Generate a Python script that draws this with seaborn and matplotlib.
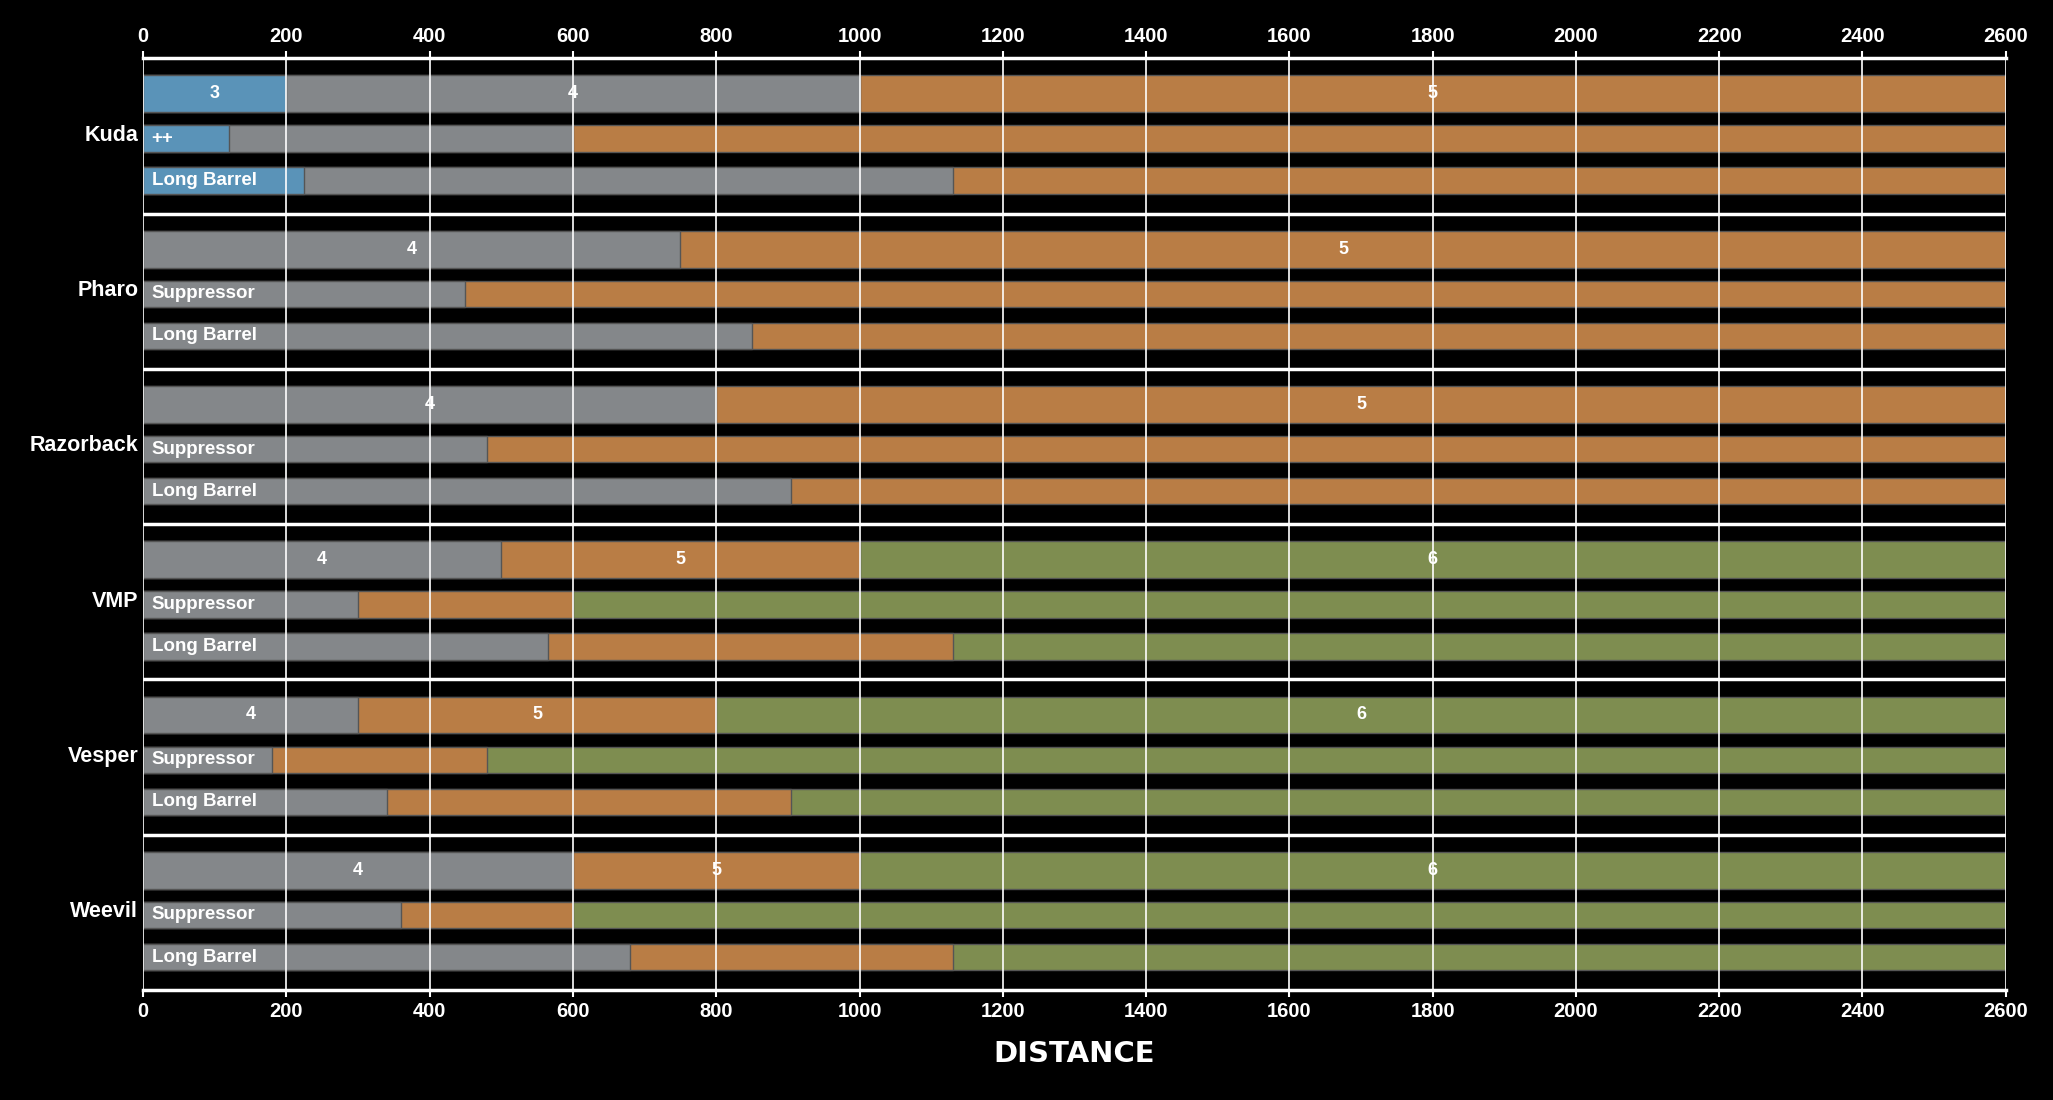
import numpy as np
import pandas as pd
import matplotlib.pyplot as plt
import seaborn as sns

# weapons and their variants (top to bottom)
weapons = ["Kuda", "Pharo", "Razorback", "VMP", "Vesper", "Weevil"]
variants = [["", "++", "Long Barrel"]] + [["", "Suppressor", "Long Barrel"]] * 5
# end distance of each damage band per row; first band number per weapon
first_band = [3, 4, 4, 4, 4, 4]
band_ends = [
    [[200, 1000, 2600], [120, 600, 2600], [225, 1130, 2600]],
    [[750, 2600], [450, 2600], [850, 2600]],
    [[800, 2600], [480, 2600], [905, 2600]],
    [[500, 1000, 2600], [300, 600, 2600], [565, 1130, 2600]],
    [[300, 800, 2600], [180, 480, 2600], [340, 905, 2600]],
    [[600, 1000, 2600], [360, 600, 2600], [680, 1130, 2600]],
]
band_colors = {3: "#5A93B8", 4: "#84878A", 5: "#B97D45", 6: "#7E8D50"}
XMAX = 2600

sns.set_theme(style="dark")
plt.rcParams["font.family"] = ["Liberation Sans", "DejaVu Sans"]
plt.rcParams["font.weight"] = "bold"

row_off = [0.229, 0.517, 0.788]
row_h = [0.237, 0.17, 0.17]

fig = plt.figure(figsize=(20.53, 11), dpi=100, facecolor="black")
ax = fig.add_axes([0.0697, 0.1, 0.9073, 0.847])
ax.set_facecolor("black")

for g, w in enumerate(weapons):
    for r in range(3):
        ends = band_ends[g][r]
        y = g + row_off[r]
        bands = [first_band[g] + i for i in range(len(ends))]
        # draw longest first so shorter bands sit on top (stacked look)
        for end, b in reversed(list(zip(ends, bands))):
            df = pd.DataFrame({"x": [end], "y": [y]})
            sns.barplot(data=df, x="x", y="y", orient="h", native_scale=True,
                        width=row_h[r], color=band_colors[b], saturation=1,
                        edgecolor="#555555", linewidth=1, ax=ax)
        if r == 0:
            starts = [0] + ends[:-1]
            for s, e, b in zip(starts, ends, bands):
                ax.text((s + e) / 2, y, str(b), ha="center", va="center",
                        color="white", fontsize=13, fontweight="bold")
        else:
            ax.text(12, y, variants[g][r], ha="left", va="center",
                    color="white", fontsize=13.5, fontweight="bold")

for g in range(1, len(weapons)):
    ax.axhline(g, color="white", lw=2.5, zorder=5)

ax.set_xlim(0, XMAX)
ax.set_ylim(len(weapons), 0)
ax.set_yticks(np.arange(len(weapons)) + 0.48)
ax.set_yticklabels(weapons, color="white", fontsize=15.5, fontweight="bold")
ax.set_ylabel("")
ax.set_xticks(np.arange(0, XMAX + 1, 200))
ax.tick_params(axis="x", colors="white", labelsize=14.5, top=True, labeltop=True,
               bottom=True, length=5, width=1.5)
ax.tick_params(axis="y", length=0)
for lab in ax.get_xticklabels():
    lab.set_fontweight("bold")
ax.grid(axis="x", color="white", lw=1.2, zorder=4)
ax.set_axisbelow(False)
for side in ["left", "right"]:
    ax.spines[side].set_visible(False)
for side in ["top", "bottom"]:
    ax.spines[side].set_color("white")
    ax.spines[side].set_linewidth(2.5)
ax.set_xlabel("DISTANCE", color="white", fontsize=21, fontweight="bold",
              family="DejaVu Sans", labelpad=14)

fig.savefig("out.png", facecolor="black")
